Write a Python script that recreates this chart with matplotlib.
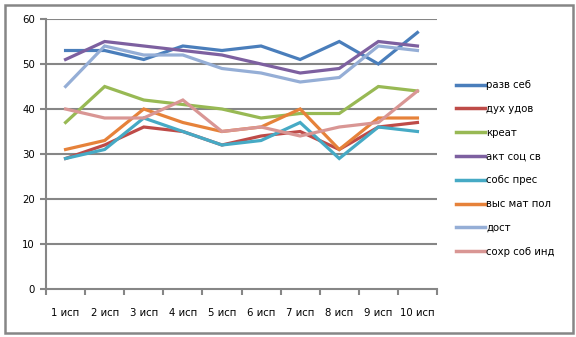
import matplotlib
matplotlib.use("Agg")
import matplotlib.pyplot as plt
from matplotlib.patches import Rectangle

categories = ["1 исп", "2 исп", "3 исп", "4 исп", "5 исп", "6 исп", "7 исп", "8 исп", "9 исп", "10 исп"]
series_names = ["разв себ", "дух удов", "креат", "акт соц св", "собс прес", "выс мат пол", "дост", "сохр соб инд"]
razv_seb = [53, 53, 51, 54, 53, 54, 51, 55, 50, 57]
duh_udov = [29, 32, 36, 35, 32, 34, 35, 31, 36, 37]
kreat = [37, 45, 42, 41, 40, 38, 39, 39, 45, 44]
akt_soc_sv = [51, 55, 54, 53, 52, 50, 48, 49, 55, 54]
sobs_pres = [29, 31, 38, 35, 32, 33, 37, 29, 36, 35]
vys_mat_pol = [31, 33, 40, 37, 35, 36, 40, 31, 38, 38]
dost = [45, 54, 52, 52, 49, 48, 46, 47, 54, 53]
sohr_sob_ind = [40, 38, 38, 42, 35, 36, 34, 36, 37, 44]
all_series = [razv_seb, duh_udov, kreat, akt_soc_sv, sobs_pres, vys_mat_pol, dost, sohr_sob_ind]
colors = ["#4A7EBB", "#BE4B48", "#98B954", "#7D60A0", "#46AAC5", "#E6823A", "#95AED6", "#D99694"]

plt.rcParams['font.family'] = ['DejaVu Sans']
fig = plt.figure(figsize=(5.76, 3.37), dpi=100)
W, H = 576, 337
ax = fig.add_axes([46 / W, 1 - 289 / H, (437 - 46) / W, (289 - 19) / H])

grid_c = "#868686"
xs = list(range(len(categories)))
for vals, c, name in zip(all_series, colors, series_names):
    ax.plot(xs, vals, color=c, lw=2.3, label=name, solid_joinstyle="miter", zorder=3)

ax.set_xlim(-0.5, len(categories) - 0.5)
ax.set_ylim(0, 60)
ax.set_yticks(range(0, 61, 10))
for y in range(10, 61, 10):
    ax.axhline(y, color=grid_c, lw=1.5, zorder=1)
ax.set_xticks([i - 0.5 for i in range(len(categories) + 1)])
ax.set_xticklabels([])
ax.set_xticks(xs, minor=True)
ax.set_xticklabels(categories, minor=True)
ax.tick_params(axis="x", which="major", direction="out", length=4, width=1.5, color=grid_c)
ax.tick_params(axis="x", which="minor", length=0, pad=14, labelsize=7.3)
ax.tick_params(axis="y", direction="out", length=4, width=1.5, color=grid_c, labelsize=7.3, pad=4)
for s in ["top", "right"]:
    ax.spines[s].set_visible(False)
for s in ["left", "bottom"]:
    ax.spines[s].set_color(grid_c)
    ax.spines[s].set_linewidth(1.5)

leg = fig.legend(loc="upper left", bbox_to_anchor=(447 / W, 1 - 71 / H), frameon=False,
                 fontsize=7.3, handlelength=2.8, handletextpad=0.15, labelspacing=1.36)
for line in leg.get_lines():
    line.set_linewidth(2.5)

fig.patches.append(Rectangle((5 / W, 4 / H), 568 / W, 328 / H, transform=fig.transFigure,
                             fill=False, edgecolor=grid_c, lw=1.8))
fig.savefig("out.png", dpi=100)
